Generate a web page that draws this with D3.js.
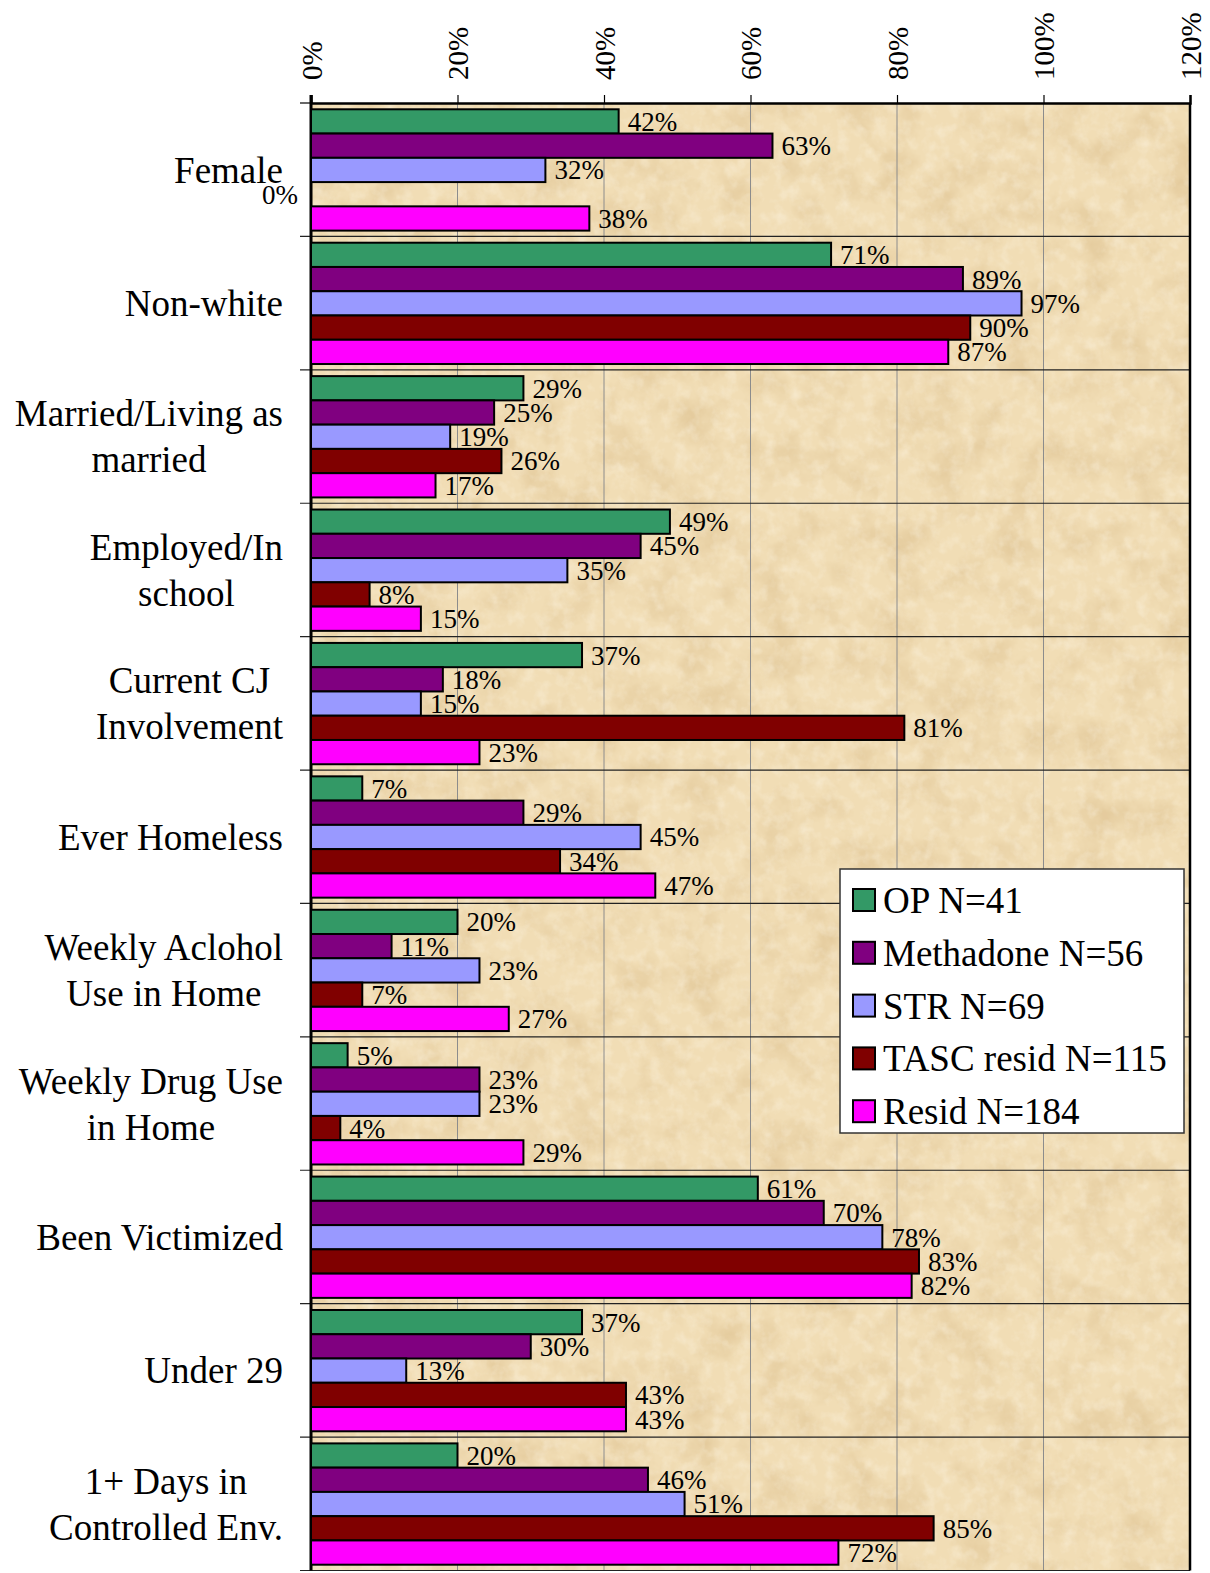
<!DOCTYPE html>
<html>
<head>
<meta charset="utf-8">
<script src="https://cdn.jsdelivr.net/npm/d3@7"></script>
<style>
  body { margin: 0; background: #fff; }
  text { font-family: "Liberation Serif", "Times New Roman", serif; fill: #000; }
</style>
</head>
<body>
<div id="chart"></div>
<script>
// categories top to bottom
const categories = [
  "Female", "Non-white", "Married/Living as|married", "Employed/In|school",
  "Current CJ|Involvement", "Ever Homeless", "Weekly Aclohol|Use in Home",
  "Weekly Drug Use|in Home", "Been Victimized", "Under 29", "1+ Days in|Controlled Env."
];
const seriesNames = ["OP N=41", "Methadone N=56", "STR N=69", "TASC resid N=115", "Resid N=184"];
const seriesColors = ["#339966", "#800080", "#9999FF", "#800000", "#FF00FF"];

const opValues        = [42, 71, 29, 49, 37, 7, 20, 5, 61, 37, 20];
const methadoneValues = [63, 89, 25, 45, 18, 29, 11, 23, 70, 30, 46];
const strValues       = [32, 97, 19, 35, 15, 45, 23, 23, 78, 13, 51];
const tascValues      = [0, 90, 26, 8, 81, 34, 7, 4, 83, 43, 85];
const residValues     = [38, 87, 17, 15, 23, 47, 27, 29, 82, 43, 72];
const allSeries = [opValues, methadoneValues, strValues, tascValues, residValues];

const xTicks = [0, 20, 40, 60, 80, 100, 120];

const width = 1210, height = 1573;
const plotLeft = 311, plotRight = 1190, plotTop = 103, plotBottom = 1570.5;

const svg = d3.select("#chart").append("svg")
  .attr("width", width).attr("height", height);

// parchment texture
const defs = svg.append("defs");
const f = defs.append("filter").attr("id", "parch")
  .attr("x", 0).attr("y", 0).attr("width", "100%").attr("height", "100%");
f.append("feTurbulence").attr("type", "fractalNoise")
  .attr("baseFrequency", 0.025).attr("numOctaves", 5).attr("seed", 7).attr("result", "n");
f.append("feColorMatrix").attr("in", "n").attr("type", "matrix")
  .attr("values", "0 0 0 0 0.78  0 0 0 0 0.60  0 0 0 0 0.34  2.2 0 0 0 -0.95");
const f2 = defs.append("filter").attr("id", "speck")
  .attr("x", 0).attr("y", 0).attr("width", "100%").attr("height", "100%");
f2.append("feTurbulence").attr("type", "fractalNoise")
  .attr("baseFrequency", 0.08).attr("numOctaves", 3).attr("seed", 3).attr("result", "n");
f2.append("feColorMatrix").attr("in", "n").attr("type", "matrix")
  .attr("values", "0 0 0 0 1  0 0 0 0 0.96  0 0 0 0 0.86  1.6 0 0 0 -0.7");

const x = d3.scaleLinear().domain([0, 120]).range([plotLeft, plotRight]);
const y = d3.scaleBand().domain(categories).range([plotTop, plotBottom]).padding(0);
const ySub = d3.scaleBand().domain(d3.range(seriesNames.length))
  .range([6.3, y.bandwidth() - 5.8]).padding(0);

svg.append("rect").attr("x", plotLeft).attr("y", plotTop)
  .attr("width", plotRight - plotLeft).attr("height", plotBottom - plotTop).attr("fill", "#F1DDB5");
svg.append("rect").attr("x", plotLeft).attr("y", plotTop)
  .attr("width", plotRight - plotLeft).attr("height", plotBottom - plotTop).attr("filter", "url(#parch)");
svg.append("rect").attr("x", plotLeft).attr("y", plotTop)
  .attr("width", plotRight - plotLeft).attr("height", plotBottom - plotTop).attr("filter", "url(#speck)")
  .attr("opacity", 0.45);

// vertical gridlines
svg.append("g").selectAll("line").data(xTicks.slice(1, -1)).join("line")
  .attr("x1", d => x(d)).attr("x2", d => x(d))
  .attr("y1", plotTop).attr("y2", plotBottom)
  .attr("stroke", "#8c8c8c").attr("stroke-width", 1);

// horizontal category separators with ticks left of the axis
const seps = categories.map(c => y(c)).concat([plotBottom]);
svg.append("g").selectAll("line").data(seps.slice(1)).join("line")
  .attr("x1", plotLeft - 11).attr("x2", plotRight)
  .attr("y1", d => d).attr("y2", d => d)
  .attr("stroke", "#222").attr("stroke-width", 1.2);

// top axis
const xAxis = d3.axisTop(x).tickValues(xTicks).tickSize(8).tickFormat(d => d + "%");
const ax = svg.append("g").attr("transform", `translate(0,${plotTop})`).call(xAxis);
ax.select(".domain").attr("stroke", "#000").attr("stroke-width", 2.5);
ax.selectAll(".tick line").attr("stroke", "#000").attr("stroke-width", 1.2);
ax.selectAll(".tick text")
  .attr("transform", "rotate(-90)")
  .attr("x", 23).attr("y", 0).attr("dy", "0.35em")
  .attr("text-anchor", "start")
  .style("font-size", "29px")
  .style("font-family", "'Liberation Serif', serif");

// plot frame
svg.append("line").attr("x1", plotLeft).attr("x2", plotLeft).attr("y1", plotTop - 8).attr("y2", plotBottom)
  .attr("stroke", "#000").attr("stroke-width", 3);
svg.append("line").attr("x1", plotRight).attr("x2", plotRight).attr("y1", plotTop).attr("y2", plotBottom)
  .attr("stroke", "#000").attr("stroke-width", 2.5);
svg.append("line").attr("x1", plotLeft - 11).attr("x2", plotLeft).attr("y1", plotTop).attr("y2", plotTop)
  .attr("stroke", "#000").attr("stroke-width", 1.2);

// bars
const groups = svg.append("g").selectAll("g").data(categories).join("g")
  .attr("transform", c => `translate(0,${y(c)})`);

groups.each(function (c, ci) {
  const g = d3.select(this);
  allSeries.forEach((vals, si) => {
    const v = vals[ci];
    const by = ySub(si);
    if (v > 0) {
      g.append("rect")
        .attr("x", x(0)).attr("y", by)
        .attr("width", x(v) - x(0)).attr("height", ySub.bandwidth())
        .attr("fill", seriesColors[si])
        .attr("stroke", "#000").attr("stroke-width", 2);
    }
    g.append("text")
      .attr("x", v > 0 ? x(v) + 9 : x(0) - 13)
      .attr("y", by + ySub.bandwidth() / 2)
      .attr("dy", "0.35em")
      .attr("text-anchor", v > 0 ? "start" : "end")
      .style("font-size", "27px")
      .text(v + "%");
  });
});

// category labels, lines centred within a block right-aligned at x=283
const labelRight = 283;
svg.append("g").selectAll("text").data(categories).join("text")
  .attr("text-anchor", "middle")
  .style("font-size", "37px")
  .each(function (c) {
    const lines = c.split("|");
    const cy = y(c) + y.bandwidth() / 2;
    const lh = 46;
    const t = d3.select(this);
    const spans = lines.map((ln, i) => t.append("tspan")
      .attr("y", cy + (i - (lines.length - 1) / 2) * lh)
      .attr("dy", "0.35em")
      .text(ln));
    const maxW = d3.max(spans, s => s.node().getComputedTextLength());
    spans.forEach(s => s.attr("x", labelRight - maxW / 2));
  });

// legend
const lg = svg.append("g").attr("transform", "translate(840,869)");
lg.append("rect").attr("width", 344).attr("height", 264)
  .attr("fill", "#fff").attr("stroke", "#333").attr("stroke-width", 1.5);
seriesNames.forEach((name, i) => {
  const cy = 31 + i * 52.8;
  lg.append("rect").attr("x", 13).attr("y", cy - 11).attr("width", 22).attr("height", 22)
    .attr("fill", seriesColors[i]).attr("stroke", "#000").attr("stroke-width", 2);
  lg.append("text").attr("x", 43).attr("y", cy).attr("dy", "0.35em")
    .style("font-size", "37px").text(name);
});
</script>
</body>
</html>
